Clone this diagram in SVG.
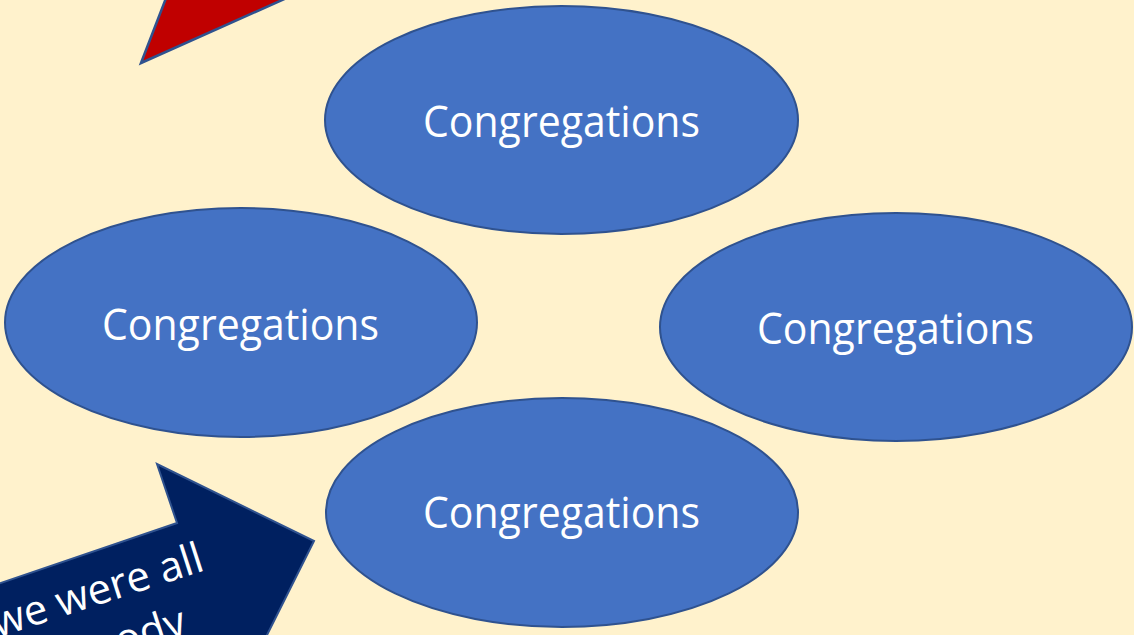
<svg xmlns="http://www.w3.org/2000/svg" width="1134" height="635" viewBox="0 0 1134 635">
<style>
.bg{fill:#FFF2CC}
.node ellipse{fill:#4472C4;stroke:#2F528F;stroke-width:2}
.lbl{font-family:"Open Sans","Liberation Sans",sans-serif;font-size:44px;fill:#FFFFFF;text-anchor:middle}
.atxt{font-family:"Open Sans","Liberation Sans",sans-serif;font-size:42px;fill:#FFFFFF;text-anchor:end}
</style>
<rect class="bg" x="0" y="0" width="1134" height="635"/>
<g id="red-arrow">
<polygon points="141,63 173,-20 327,-20" fill="#C00000" stroke="#2F528F" stroke-width="2.5"/>
</g>
<g id="connectors"></g>
<g id="node-top" class="node">
<ellipse cx="561.5" cy="120" rx="236.5" ry="114"/>
<text class="lbl" x="561.5" y="137" textLength="277" lengthAdjust="spacingAndGlyphs">Congregations</text>
</g>
<g id="node-left" class="node">
<ellipse cx="241" cy="322.5" rx="236" ry="114.5"/>
<text class="lbl" x="240.5" y="339.5" textLength="277" lengthAdjust="spacingAndGlyphs">Congregations</text>
</g>
<g id="node-right" class="node">
<ellipse cx="896" cy="327" rx="236" ry="114"/>
<text class="lbl" x="895.5" y="344" textLength="277" lengthAdjust="spacingAndGlyphs">Congregations</text>
</g>
<g id="node-bottom" class="node">
<ellipse cx="562" cy="512.5" rx="236" ry="114.5"/>
<text class="lbl" x="561.5" y="528" textLength="277" lengthAdjust="spacingAndGlyphs">Congregations</text>
</g>
<g id="blue-arrow">
<polygon points="-20,590 177,523 157,464 314,541 250,669 -20,669" fill="#002060" stroke="#2F528F" stroke-width="2"/>
<g transform="translate(206,570) rotate(-18)">
<text class="atxt" x="0" y="0">we were all</text>
<text class="atxt" x="-36" y="55">ody</text>
</g>
</g>
</svg>
